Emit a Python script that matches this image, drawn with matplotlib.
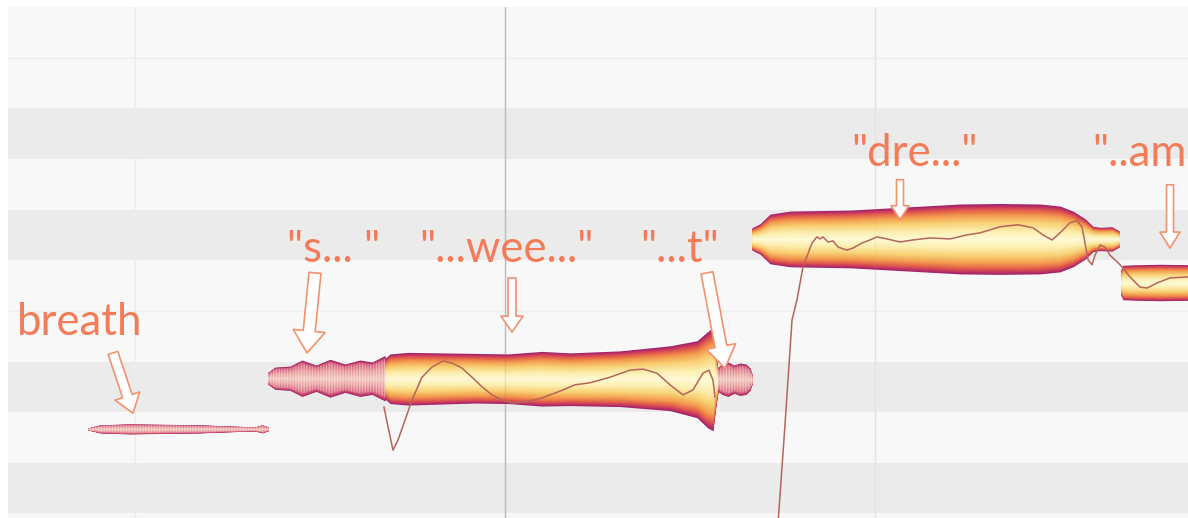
import numpy as np
import matplotlib
matplotlib.use("Agg")
import matplotlib.pyplot as plt
from matplotlib import font_manager as fm
from matplotlib.colors import LinearSegmentedColormap

# piano-roll rows (semitones), shaded = black keys in the screenshot
row_pitch = [61, 62, 63, 64, 65, 66, 67, 68, 69, 70]
row_dark = [1, 0, 1, 0, 0, 1, 0, 1, 0, 0]
bar_times = [0.635, 2.485, 4.335]

# blobs: time (s), centre pitch, half height (semitones)
breath_t = [0.40, 0.46, 0.61, 0.96, 1.16, 1.235, 1.27, 1.30]
breath_c = 62.17
breath_hw = [0.02, 0.08, 0.10, 0.08, 0.05, 0.04, 0.08, 0.04]

s_t = [1.30, 1.335, 1.41, 1.47, 1.54, 1.61, 1.685, 1.76, 1.82, 1.885]
s_c = 63.17
s_hw = [0.12, 0.22, 0.24, 0.36, 0.26, 0.375, 0.28, 0.36, 0.32, 0.45]

wee_t = [1.885, 1.91, 2.00, 2.335, 2.50, 2.67, 2.81, 3.06, 3.31, 3.445, 3.495, 3.525, 3.54, 3.55]
wee_c = [63.16, 63.16, 63.16, 63.17, 63.16, 63.16, 63.15, 63.16, 63.17, 63.15, 63.14, 63.15, 63.13, 63.11]
wee_hw = [0.40, 0.49, 0.52, 0.49, 0.49, 0.54, 0.52, 0.55, 0.64, 0.76, 0.94, 1.02, 0.49, 0.22]

t_t = [3.55, 3.57, 3.60, 3.63, 3.66, 3.69, 3.71, 3.72]
t_c = 63.15
t_hw = [0.24, 0.30, 0.34, 0.28, 0.32, 0.30, 0.22, 0.10]

dre_t = [3.72, 3.76, 3.81, 3.91, 4.21, 4.76, 4.96, 5.16, 5.26, 5.325, 5.385, 5.425, 5.46, 5.52, 5.555]
dre_c = 65.92
dre_hw = [0.22, 0.30, 0.49, 0.55, 0.57, 0.69, 0.70, 0.69, 0.65, 0.55, 0.40, 0.25, 0.23, 0.24, 0.16]

am_t = [5.565, 5.575, 5.635, 5.76, 5.935]
am_c = 65.06
am_hw = [0.26, 0.34, 0.35, 0.36, 0.35]

# pitch curves
pitch1_t = [1.88, 1.90, 1.925, 1.95, 1.985, 2.02, 2.07, 2.12, 2.175, 2.22, 2.27, 2.32, 2.37,
            2.42, 2.47, 2.52, 2.585, 2.67, 2.75, 2.835, 2.91, 3.01, 3.11, 3.175, 3.245, 3.31,
            3.375, 3.425, 3.475, 3.505, 3.525, 3.535]
pitch1_p = [62.60, 62.21, 61.75, 61.95, 62.34, 62.74, 63.19, 63.39, 63.51, 63.47, 63.37, 63.19,
            63.00, 62.84, 62.74, 62.68, 62.70, 62.78, 62.90, 63.04, 63.08, 63.19, 63.33, 63.35,
            63.27, 63.04, 62.84, 62.94, 63.27, 63.33, 63.13, 62.80]
pitch2_t = [3.85, 3.885, 3.92, 3.945, 3.975, 4.02, 4.045, 4.06, 4.075, 4.10, 4.125, 4.15, 4.195,
            4.225, 4.27, 4.31, 4.345, 4.395, 4.46, 4.525, 4.61, 4.71, 4.795, 4.86, 4.96, 5.05,
            5.125, 5.175, 5.22, 5.26, 5.31, 5.345, 5.37, 5.385, 5.40, 5.42, 5.435, 5.46, 5.485,
            5.51, 5.545, 5.57, 5.61, 5.66, 5.695, 5.745, 5.81, 5.90]
pitch2_p = [60.30, 62.25, 64.32, 64.72, 65.37, 65.84, 65.96, 65.92, 65.96, 65.86, 65.88, 65.76,
            65.70, 65.74, 65.84, 65.90, 65.96, 65.92, 65.86, 65.90, 65.94, 65.92, 66.00, 66.04,
            66.16, 66.20, 66.14, 66.00, 65.90, 66.04, 66.24, 66.28, 66.16, 65.84, 65.51, 65.41,
            65.60, 65.80, 65.76, 65.60, 65.47, 65.37, 65.17, 64.97, 64.95, 65.05, 65.15, 65.17]

# annotations
label_text = ['breath', '"s... "', '"...wee..."', '"...t"', '"dre..."', '"..am..."']
label_t = [0.36, 1.63, 2.49, 3.36, 4.535, 5.42]
label_p = [64.28, 65.72, 65.72, 65.72, 67.60, 67.60]
arrow_tail_t = [0.525, 1.535, 2.52, 3.495, 4.46, 5.81]
arrow_tail_p = [63.67, 65.25, 65.15, 65.25, 67.09, 66.99]
arrow_tip_t = [0.625, 1.495, 2.52, 3.585, 4.46, 5.81]
arrow_tip_p = [62.48, 63.67, 64.08, 63.37, 66.30, 65.74]

CORAL = '#f47b58'
voiced = LinearSegmentedColormap.from_list('voiced', [
    (0.0, '#fffbd8'), (0.25, '#fcefb0'), (0.5, '#f8cf72'), (0.7, '#f39a4e'),
    (0.84, '#e4604a'), (0.93, '#c83a5e'), (1.0, '#a3246c')])
unvoiced = LinearSegmentedColormap.from_list('unvoiced', [
    (0.0, '#f2c6bd'), (0.4, '#eaa0a0'), (0.75, '#dc6c80'), (0.9, '#c84470'), (1.0, '#a32a66')])

names = {f.name for f in fm.fontManager.ttflist}
font = next((f for f in ['Lato', 'Liberation Sans', 'DejaVu Sans'] if f in names), 'DejaVu Sans')


def draw_blob(ax, t, c, hw, cmap, striped=False, n=30):
    t = np.asarray(t, dtype=float)
    c = np.broadcast_to(np.asarray(c, dtype=float), t.shape)
    hw = np.asarray(hw, dtype=float)
    for k in np.linspace(1.0, 0.03, n):
        ax.fill_between(t, c - k * hw, c + k * hw, color=cmap(k), lw=0, zorder=3)
    if striped:
        ax.fill_between(t, c - 0.85 * hw, c + 0.85 * hw, facecolor='none',
                        edgecolor=(1, 1, 1, 0.35), hatch='||||||', lw=0, zorder=3.5)


fig = plt.figure(figsize=(11.88, 5.18), dpi=100, facecolor='white')
ax = fig.add_axes([8 / 1188, 0, 1180 / 1188, 511 / 518])
ax.set_facecolor('#f8f8f8')
ax.set_xlim(0, 5.9)
ax.set_ylim(60.41, 70.5)
ax.axis('off')
ax.add_patch(plt.Rectangle((0, 60.41), 5.9, 10.09, color='#f8f8f8', zorder=0))

for p, dark in zip(row_pitch, row_dark):
    if dark:
        ax.axhspan(p - 0.5, p + 0.5, color='#ebebeb', lw=0, zorder=0.5)
ax.axhline(64.5, color='#eeeeee', lw=1, zorder=0.6)
ax.axhline(69.5, color='#eeeeee', lw=1, zorder=0.6)

for i, bt in enumerate(bar_times):
    col = '#cccccc' if i == 1 else '#ececec'
    ax.axvline(bt, color=col, lw=1, zorder=1)

draw_blob(ax, breath_t, breath_c, breath_hw, unvoiced, striped=True)
draw_blob(ax, s_t, s_c, s_hw, unvoiced, striped=True)
draw_blob(ax, wee_t, wee_c, wee_hw, voiced)
draw_blob(ax, t_t, t_c, t_hw, unvoiced, striped=True)
draw_blob(ax, dre_t, dre_c, dre_hw, voiced)
draw_blob(ax, am_t, am_c, am_hw, voiced)

# playhead / bar line shows faintly through the blobs
ax.axvline(bar_times[1], color=(0.5, 0.5, 0.5, 0.2), lw=1, zorder=4)
ax.axvline(bar_times[2], color=(0.6, 0.6, 0.6, 0.1), lw=1, zorder=4)

ax.plot(pitch1_t, pitch1_p, color='#b5655a', lw=1.1, zorder=5, solid_joinstyle='round')
ax.plot(pitch2_t, pitch2_p, color='#b5655a', lw=1.1, zorder=5, solid_joinstyle='round')

arrow_px = [(10, 26, 18), (12, 32, 22), (8, 22, 16), (12, 30, 22), (7, 18, 14), (7, 20, 16)]
for i in range(len(label_text)):
    ax.text(label_t[i], label_p[i], label_text[i], ha='left' if i == 5 else 'center',
            va='center', fontsize=31.5, color=CORAL, family=font, zorder=6, clip_on=True)
    tw, hw, hl = arrow_px[i]
    ax.annotate('', xy=(arrow_tip_t[i], arrow_tip_p[i]),
                xytext=(arrow_tail_t[i], arrow_tail_p[i]),
                arrowprops=dict(arrowstyle=f'simple,head_length={hl / 10},head_width={hw / 10},'
                                           f'tail_width={tw / 10}',
                                mutation_scale=7.2, fc='white', ec='#f4916f', lw=1.2,
                                shrinkA=0, shrinkB=0),
                zorder=7)

fig.savefig('out.png', dpi=100, facecolor='white')
